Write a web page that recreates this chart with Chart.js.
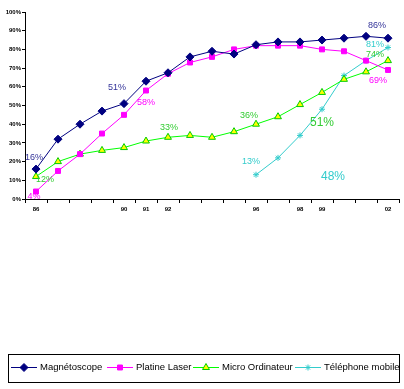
<!DOCTYPE html>
<html>
<head>
<meta charset="utf-8">
<script src="https://cdn.jsdelivr.net/npm/chart.js@4.4.0/dist/chart.umd.min.js"></script>
<style>
  html, body { margin: 0; padding: 0; background: #fff; }
  canvas { display: block; }
</style>
</head>
<body>
<canvas id="myChart" width="404" height="389"></canvas>
<script>
// données 1986 - 2002
const years = ['86', '', '', '', '90', '91', '92', '', '', '', '96', '', '98', '99', '', '', '02'];
const magnetoscope = [16, 32, 40, 47, 51, 63, 67.5, 76, 79, 77.5, 82.5, 84, 84, 85, 86, 87, 86];
const platineLaser = [4, 15, 24, 35, 45, 58, 67, 73, 76, 80, 82, 82, 82, 80, 79, 74, 69];
const microOrdi = [12, 20, 24, 26, 27.5, 31, 33, 34, 33, 36, 40, 44, 50.5, 57, 64, 68, 74];
const telephone = [null, null, null, null, null, null, null, null, null, null, 13, 22, 34, 48, 66, 74, 81];

// étiquettes : [série, point, texte, dx, dy, taille]
const etiquettes = [
  [0, 0, '16%', -2, -12, 9],
  [0, 4, '51%', -7, -16, 9],
  [1, 5, '58%', 0, 12, 9],
  [1, 0, '4%', -2, 5, 9],
  [2, 0, '12%', 9, 3, 9],
  [2, 6, '33%', 1, -10, 9],
  [2, 10, '36%', -7, -9, 9],
  [3, 10, '13%', -5, -13, 9],
  [2, 12, '51%', 22, 18, 12],
  [3, 13, '48%', 11, 67, 12],
  [0, 16, '86%', -11, -13, 9],
  [3, 16, '81%', -13, -3, 9],
  [2, 16, '74%', -13, -6, 9],
  [1, 16, '69%', -10, 11, 9]
];
const couleursTexte = ['#333399', '#FF00FF', '#33CC33', '#33CCCC'];
const legendeX = [11, 107, 193, 295];

const labelsPlugin = {
  id: 'labelsPlugin',
  afterDatasetsDraw(chart) {
    const c = chart.ctx;
    c.save();
    c.textAlign = 'center';
    c.textBaseline = 'middle';
    etiquettes.forEach(e => {
      const pt = chart.getDatasetMeta(e[0]).data[e[1]];
      c.font = e[5] + 'px "Liberation Sans", Arial, sans-serif';
      c.fillStyle = couleursTexte[e[0]];
      c.fillText(e[2], pt.x + e[3], pt.y + e[4]);
    });
    c.restore();
  }
};

// légende façon Excel : trait + marqueur dans un cadre
const legendPlugin = {
  id: 'legendPlugin',
  afterDraw(chart) {
    const c = chart.ctx;
    c.save();
    c.strokeStyle = '#000';
    c.lineWidth = 1;
    c.strokeRect(8.5, 354.5, 391, 28);
    const y = 367.5;
    chart.data.datasets.forEach((ds, i) => {
      const x = legendeX[i];
      c.strokeStyle = ds.borderColor;
      c.lineWidth = 1;
      c.beginPath();
      c.moveTo(x, y);
      c.lineTo(x + 26, y);
      c.stroke();
      c.fillStyle = ds.pointBackgroundColor;
      c.strokeStyle = ds.pointBorderColor;
      Chart.helpers.drawPoint(c, {
        pointStyle: ds.pointStyle, radius: ds.pointRadius, rotation: 0, borderWidth: 1
      }, x + 13, y);
      c.font = '9.5px "Liberation Sans", Arial, sans-serif';
      c.textBaseline = 'middle';
      c.fillStyle = '#000';
      c.fillText(ds.label, x + 29, y);
    });
    c.restore();
  }
};

const ctx = document.getElementById('myChart');

new Chart(ctx, {
  type: 'line',
  data: {
    labels: years,
    datasets: [{
      label: 'Magnétoscope',
      data: magnetoscope,
      borderColor: '#000080',
      backgroundColor: '#000080',
      pointBackgroundColor: '#000080',
      pointBorderColor: '#000080',
      pointStyle: 'rectRot',
      pointRadius: 4,
      borderWidth: 1
    }, {
      label: 'Platine Laser',
      data: platineLaser,
      borderColor: '#FF00FF',
      backgroundColor: '#FF00FF',
      pointBackgroundColor: '#FF00FF',
      pointBorderColor: '#FF00FF',
      pointStyle: 'rect',
      pointRadius: 3.5,
      borderWidth: 1
    }, {
      label: 'Micro Ordinateur',
      data: microOrdi,
      borderColor: '#00FF00',
      backgroundColor: '#FFFF00',
      pointBackgroundColor: '#FFFF00',
      pointBorderColor: '#00CC00',
      pointStyle: 'triangle',
      pointRadius: 4,
      borderWidth: 1
    }, {
      label: 'Téléphone mobile',
      data: telephone,
      borderColor: '#33CCCC',
      backgroundColor: '#33CCCC',
      pointBackgroundColor: '#33CCCC',
      pointBorderColor: '#33CCCC',
      pointStyle: 'star',
      pointRadius: 3,
      borderWidth: 1
    }]
  },
  options: {
    responsive: false,
    animation: false,
    devicePixelRatio: 1,
    layout: { padding: { top: 12, right: 5, bottom: 170, left: 0 } },
    elements: { line: { tension: 0 }, point: { borderWidth: 1 } },
    plugins: {
      legend: { display: false },
      tooltip: { enabled: false }
    },
    scales: {
      x: {
        offset: true,
        grid: {
          offset: true,
          drawOnChartArea: false,
          drawTicks: true,
          tickLength: 4,
          color: '#000'
        },
        border: { display: true, color: '#000', width: 1 },
        ticks: {
          autoSkip: false,
          maxRotation: 0,
          padding: 3,
          color: '#000',
          font: { size: 6, weight: 'bold', family: '"Liberation Sans", Arial, sans-serif' }
        },
        afterFit(scale) { scale.height = 20; }
      },
      y: {
        min: 0,
        max: 100,
        ticks: {
          stepSize: 10,
          padding: 1,
          color: '#000',
          font: { size: 6, weight: 'bold', family: '"Liberation Sans", Arial, sans-serif' },
          callback: v => v + '%'
        },
        grid: {
          drawOnChartArea: false,
          drawTicks: true,
          tickLength: 3,
          color: '#000'
        },
        border: { display: true, color: '#000', width: 1 },
        afterFit(scale) { scale.width = 25; }
      }
    }
  },
  plugins: [labelsPlugin, legendPlugin]
});
</script>
</body>
</html>
